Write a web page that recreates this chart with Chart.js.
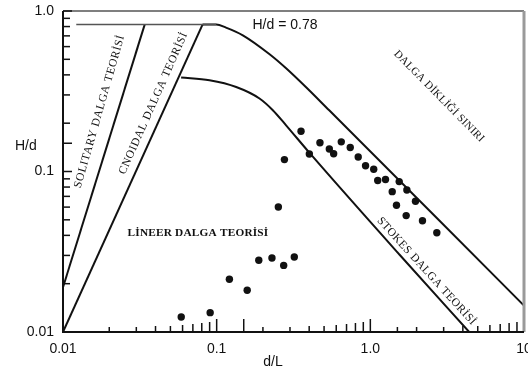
<!DOCTYPE html>
<html>
<head>
<meta charset="utf-8">
<script src="https://cdn.jsdelivr.net/npm/chart.js@4.4.1/dist/chart.umd.min.js"></script>
<style>
html, body { margin: 0; padding: 0; background: #fff; }
canvas { display: block; }
</style>
</head>
<body>
<canvas id="chart" width="528" height="373"></canvas>
<script>
// Wave theory applicability chart (d/L vs H/d, log-log)

// axis ticks
const xTickValues = [0.01, 0.1, 1, 10];
const xTickLabels = ['0.01', '0.1', '1.0', '10'];
const yTickValues = [0.01, 0.1, 1];
const yTickLabels = ['0.01', '0.1', '1.0'];

// H/d = 0.78 cap
const capX = [0.0122, 0.0993];
const capY = [0.823, 0.823];

// solitary / cnoidal boundaries
const solitaryX = [0.01, 0.034];
const solitaryY = [0.019, 0.823];
const cnoidalX = [0.01, 0.0809];
const cnoidalY = [0.01, 0.823];

// breaking (steepness) limit
const limitX = [0.0809, 0.0993, 0.115, 0.148, 0.220, 0.283, 0.382, 0.54, 2.80, 10];
const limitY = [0.823, 0.823, 0.788, 0.706, 0.540, 0.440, 0.335, 0.2405, 0.0497, 0.0146];

// stokes / linear boundary
const stokesX = [0.0587, 0.0898, 0.134, 0.190, 0.232, 0.283, 0.401, 1.54, 4.4];
const stokesY = [0.385, 0.370, 0.336, 0.285, 0.241, 0.194, 0.131, 0.0305, 0.01];

// measured points
const measX = [0.0588, 0.0907, 0.121, 0.158, 0.188, 0.229, 0.273, 0.320, 0.252, 0.276,
               0.354, 0.401, 0.470, 0.541, 0.577, 0.647, 0.740, 0.834, 0.931, 1.052,
               1.117, 1.255, 1.388, 1.541, 1.729, 1.480, 1.967, 1.711, 2.184, 2.708];
const measY = [0.0124, 0.0132, 0.0213, 0.0182, 0.0280, 0.0289, 0.0260, 0.0293, 0.0601, 0.1186,
               0.178, 0.1285, 0.151, 0.138, 0.129, 0.153, 0.141, 0.123, 0.1085, 0.1032,
               0.0878, 0.0892, 0.0749, 0.0865, 0.0767, 0.0616, 0.0652, 0.0531, 0.0493, 0.0415];

function pts(xs, ys) { return xs.map((x, i) => ({ x: x, y: ys[i] })); }

function tickLabel(v, values, labels) {
    for (let i = 0; i < values.length; i++) {
        if (Math.abs(Math.log10(v) - Math.log10(values[i])) < 1e-6) return labels[i];
    }
    return '';
}

function mantissa(v) {
    return Math.round(v / Math.pow(10, Math.floor(Math.log10(v) + 1e-9)));
}

const lineStyle = { showLine: true, pointRadius: 0, borderColor: '#111', borderWidth: 2, fill: false };
const curveStyle = Object.assign({}, lineStyle, { cubicInterpolationMode: 'monotone' });

const xTickLen = [0, 13, 5, 5, 6, 6, 7, 8, 9, 10];
const sansFont = '"Liberation Sans", Arial, sans-serif';

const framePlugin = {
    id: 'frame',
    afterDatasetsDraw(chart) {
        const ctx = chart.ctx;
        const a = chart.chartArea;
        const xs = chart.scales.x, ys = chart.scales.y;
        ctx.save();
        // top and right border
        ctx.strokeStyle = '#555'; ctx.lineWidth = 1.5;
        ctx.beginPath(); ctx.moveTo(a.left, a.top); ctx.lineTo(a.right, a.top); ctx.stroke();
        ctx.strokeStyle = '#9a9a9a'; ctx.lineWidth = 3;
        ctx.beginPath(); ctx.moveTo(a.right, a.top); ctx.lineTo(a.right, a.bottom); ctx.stroke();
        // axes
        ctx.strokeStyle = '#111'; ctx.lineWidth = 2;
        ctx.beginPath(); ctx.moveTo(a.left, a.top); ctx.lineTo(a.left, a.bottom); ctx.lineTo(a.right, a.bottom); ctx.stroke();
        // inside ticks
        ctx.lineWidth = 1.5;
        xs.ticks.forEach(t => {
            const px = xs.getPixelForValue(t.value);
            if (px <= a.left + 1 || px >= a.right - 1) return;
            const len = xTickLen[mantissa(t.value)] || 6;
            ctx.beginPath(); ctx.moveTo(px, a.bottom); ctx.lineTo(px, a.bottom - len); ctx.stroke();
        });
        ys.ticks.forEach(t => {
            const py = ys.getPixelForValue(t.value);
            if (py >= a.bottom - 1) return;
            const len = mantissa(t.value) === 1 ? 9 : 7;
            ctx.beginPath(); ctx.moveTo(a.left, py); ctx.lineTo(a.left + len, py); ctx.stroke();
        });
        ctx.restore();
    },
    afterDraw(chart) {
        const ctx = chart.ctx;
        const xs = chart.scales.x, ys = chart.scales.y;
        ctx.save();
        ctx.fillStyle = '#111';
        // axis titles
        ctx.font = '14px ' + sansFont;
        ctx.textBaseline = 'middle';
        ctx.textAlign = 'left';
        ctx.fillText('H/d', 15, 146);
        ctx.textAlign = 'center';
        ctx.fillText('d/L', 273, 362);
        ctx.textAlign = 'left';
        ctx.fillText('H/d = 0.78', xs.getPixelForValue(0.171), ys.getPixelForValue(0.815));

        const label = (txt, xv, yv, deg, font, spacing) => {
            ctx.save();
            ctx.translate(xs.getPixelForValue(xv), ys.getPixelForValue(yv));
            ctx.rotate(deg * Math.PI / 180);
            ctx.font = font;
            ctx.letterSpacing = spacing || '0px';
            ctx.textAlign = 'center';
            ctx.textBaseline = 'middle';
            ctx.fillText(txt, 0, 0);
            ctx.restore();
        };
        const serif = '11.5px "Liberation Serif", "Times New Roman", serif';
        label('SOLITARY DALGA TEORİSİ', 0.0173, 0.237, -74, serif, '0.6px');
        label('CNOIDAL DALGA TEORİSİ', 0.0388, 0.266, -66, serif, '0.6px');
        label('LİNEER DALGA TEORİSİ', 0.0756, 0.0412, 0, 'bold 11.3px "Liberation Serif", serif', '0.2px');
        label('DALGA DİKLİĞİ SINIRI', 2.80, 0.294, 45.5, '11px "Liberation Serif", serif', '0.3px');
        label('STOKES DALGA TEORİSİ', 2.32, 0.0239, 47.7, serif, '0.4px');
        ctx.restore();
    }
};

new Chart(document.getElementById('chart'), {
    type: 'scatter',
    data: {
        datasets: [
            Object.assign({ data: pts(capX, capY) }, lineStyle, { borderColor: '#555', borderWidth: 1.5 }),
            Object.assign({ data: pts(solitaryX, solitaryY) }, lineStyle),
            Object.assign({ data: pts(cnoidalX, cnoidalY) }, lineStyle),
            Object.assign({ data: pts(limitX, limitY) }, curveStyle),
            Object.assign({ data: pts(stokesX, stokesY) }, curveStyle),
            {
                data: pts(measX, measY),
                showLine: false,
                pointRadius: 3.7,
                pointBackgroundColor: '#111',
                pointBorderColor: '#111',
                pointBorderWidth: 0
            }
        ]
    },
    options: {
        responsive: false,
        animation: false,
        layout: { padding: { top: 11, right: 3, left: 0, bottom: 0 } },
        plugins: { legend: { display: false }, tooltip: { enabled: false } },
        scales: {
            x: {
                type: 'logarithmic', min: 0.01, max: 10,
                grid: { display: false, drawTicks: false },
                border: { display: false },
                ticks: {
                    autoSkip: false, maxRotation: 0, minRotation: 0, padding: 9,
                    color: '#111', font: { family: sansFont, size: 14 },
                    callback: v => tickLabel(v, xTickValues, xTickLabels)
                },
                afterFit(s) { s.height = 41; s.paddingLeft = 0; s.paddingRight = 0; }
            },
            y: {
                type: 'logarithmic', min: 0.01, max: 1,
                grid: { display: false, drawTicks: false },
                border: { display: false },
                ticks: {
                    autoSkip: false, padding: 9,
                    color: '#111', font: { family: sansFont, size: 14 },
                    callback: v => tickLabel(v, yTickValues, yTickLabels)
                },
                afterFit(s) { s.width = 63; s.paddingTop = 0; s.paddingBottom = 0; }
            }
        }
    },
    plugins: [framePlugin]
});
</script>
</body>
</html>
